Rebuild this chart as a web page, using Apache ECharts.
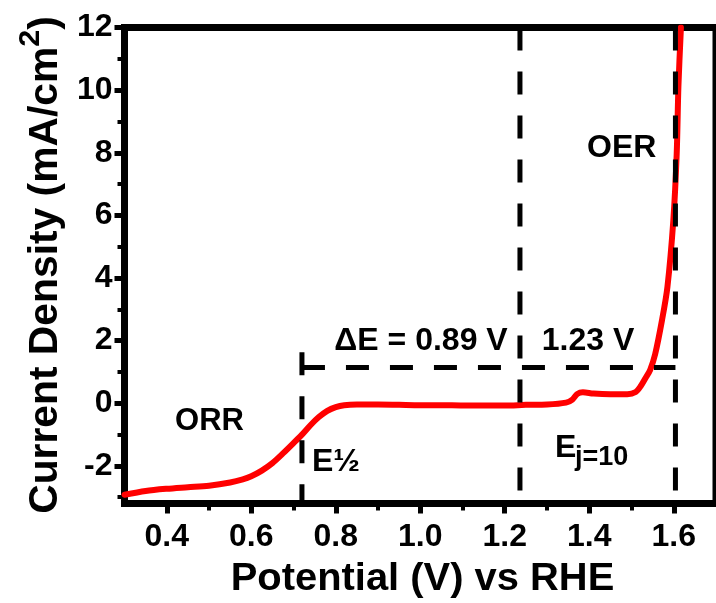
<!DOCTYPE html>
<html>
<head>
<meta charset="utf-8">
<script src="https://cdn.jsdelivr.net/npm/echarts@6/dist/echarts.min.js"></script>
<style>html,body{margin:0;padding:0;background:#fff}#c{width:716px;height:603px}</style>
</head>
<body>
<div id="c"></div>
<script>
// Polarisation curve (LSV), potential in V vs RHE, current density in mA/cm2
const potential = [0.30,0.35,0.40,0.45,0.50,0.55,0.58,0.60,0.625,0.65,0.675,0.70,0.72,0.74,0.76,0.78,0.80,0.82,0.85,0.90,0.95,1.00,1.05,1.10,1.15,1.20,1.25,1.30,1.345,1.36,1.372,1.385,1.41,1.45,1.49,1.51,1.522,1.533,1.544,1.556,1.572,1.585,1.599,1.607,1.611,1.617];
const current   = [-2.92,-2.80,-2.73,-2.68,-2.63,-2.53,-2.43,-2.33,-2.15,-1.91,-1.60,-1.27,-1.00,-0.70,-0.44,-0.24,-0.12,-0.06,-0.04,-0.04,-0.05,-0.06,-0.06,-0.07,-0.07,-0.07,-0.05,-0.04,0.02,0.12,0.30,0.35,0.31,0.29,0.29,0.36,0.55,0.80,1.06,1.57,2.64,3.71,5.84,7.97,10.1,12.0];

// Reference (dashed) guide lines: E1/2, 1.23 V, Ej=10 and the deltaE bar
const eHalf = 0.72, eRev = 1.236, eJ10 = 1.604, barLevel = 1.14, eHalfTop = 1.63;

const xTicks = [0.4,0.6,0.8,1.0,1.2,1.4,1.6];
const xMinor = [0.5,0.7,0.9,1.1,1.3,1.5];
const yTicks = [-2,0,2,4,6,8,10,12];
const yMinor = [-3,-1,1,3,5,7,9,11];
const xRange = [0.3,1.7];
const yRange = [-3.2,12];

const FONT = '"Liberation Sans", Arial, sans-serif';
const chart = echarts.init(document.getElementById('c'));

const dashStyle = {color:'#000', width:5, type:[23,21]};
function dashSeries(pts){
  return {type:'line', data:pts, symbol:'none', silent:true, z:5, lineStyle:dashStyle, animation:false};
}

const lbl = {fontSize:32, fontWeight:'bold', color:'#000', fontFamily:FONT};

chart.setOption({
  animation:false,
  backgroundColor:'#fff',
  grid:{left:124.5, right:-3.5, top:27.5, bottom:99.5, show:true, borderColor:'#000', borderWidth:7},
  xAxis:[
    {type:'value', min:xRange[0], max:xRange[1], position:'bottom',
     axisLine:{show:true, onZero:false, lineStyle:{color:'#000', width:7}},
     axisTick:{show:true, customValues:xTicks, length:10, lineStyle:{color:'#000', width:5}},
     axisLabel:Object.assign({customValues:xTicks, margin:18, formatter:v=>v.toFixed(1)}, lbl),
     splitLine:{show:false}},
    {type:'value', min:xRange[0], max:xRange[1], position:'bottom',
     axisLine:{show:false, onZero:false}, axisTick:{show:true, customValues:xMinor, length:7, lineStyle:{color:'#000', width:4}},
     axisLabel:{show:false}, splitLine:{show:false}}
  ],
  yAxis:[
    {type:'value', min:yRange[0], max:yRange[1], position:'left',
     axisLine:{show:true, onZero:false, lineStyle:{color:'#000', width:7}},
     axisTick:{show:true, customValues:yTicks, length:10, lineStyle:{color:'#000', width:5}},
     axisLabel:Object.assign({customValues:yTicks, margin:12}, lbl),
     splitLine:{show:false}},
    {type:'value', min:yRange[0], max:yRange[1], position:'left',
     axisLine:{show:false, onZero:false}, axisTick:{show:true, customValues:yMinor, length:7, lineStyle:{color:'#000', width:4}},
     axisLabel:{show:false}, splitLine:{show:false}}
  ],
  series:[
    {type:'line', data:potential.map((p,i)=>[p,current[i]]), symbol:'none', smooth:0.3,
     lineStyle:{color:'#ff0000', width:6, join:'round', cap:'round'}, z:3},
    dashSeries([[eHalf,eHalfTop],[eHalf,yRange[0]]]),
    dashSeries([[eRev,yRange[1]],[eRev,yRange[0]]]),
    dashSeries([[eJ10,yRange[1]],[eJ10,yRange[0]]]),
    dashSeries([[eHalf,barLevel],[eJ10,barLevel]])
  ],
  graphic:[
    {type:'text', x:422.5, y:579.7, scaleX:1.05, style:{text:'Potential (V) vs RHE', font:'bold 38px '+FONT, fill:'#000', align:'center', verticalAlign:'middle'}},
    {type:'text', x:41, y:265, rotation:Math.PI/2, scaleX:1.02,
     style:{text:'{a|Current Density (mA/cm}{s|2}{a|)}', fill:'#000', align:'center', verticalAlign:'middle',
       rich:{a:{font:'bold 40px '+FONT, fill:'#000', verticalAlign:'bottom'},
             s:{font:'bold 30px '+FONT, fill:'#000', verticalAlign:'bottom', padding:[0,0,20,0]}}}},
    {type:'text', x:209.5, y:421, style:{text:'ORR', font:'bold 31px '+FONT, fill:'#000', align:'center', verticalAlign:'middle'}},
    {type:'text', x:621.7, y:148, style:{text:'OER', font:'bold 32px '+FONT, fill:'#000', align:'center', verticalAlign:'middle'}},
    {type:'text', x:421, y:341.5, style:{text:'ΔE = 0.89 V', font:'bold 32px '+FONT, fill:'#000', align:'center', verticalAlign:'middle'}},
    {type:'text', x:588, y:341, style:{text:'1.23 V', font:'bold 32px '+FONT, fill:'#000', align:'center', verticalAlign:'middle'}},
    {type:'text', x:312, y:462, style:{text:'E½', font:'bold 32px '+FONT, fill:'#000', align:'left', verticalAlign:'middle'}},
    {type:'text', x:555, y:448.3, style:{text:'E', font:'bold 32px '+FONT, fill:'#000', align:'left', verticalAlign:'middle'}},
    {type:'text', x:575, y:457.5, style:{text:'j=10', font:'bold 27px '+FONT, fill:'#000', align:'left', verticalAlign:'middle'}}
  ]
});
</script>
</body>
</html>
